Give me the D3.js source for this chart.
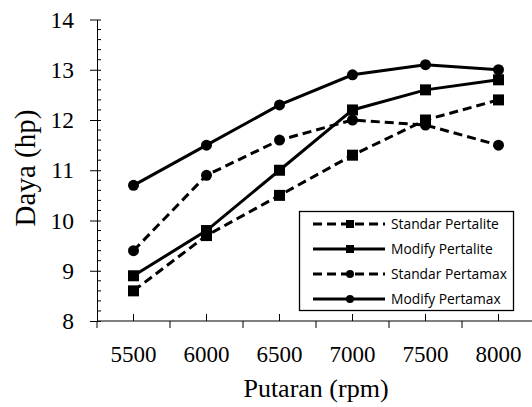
<!DOCTYPE html>
<html>
<head>
<meta charset="utf-8">
<script src="https://d3js.org/d3.v7.min.js"></script>
<style>
  body { margin: 0; background: #fff; }
</style>
</head>
<body>
<div id="chart"></div>
<script>
let rpm = ["5500", "6000", "6500", "7000", "7500", "8000"];
let yTicks = [8, 9, 10, 11, 12, 13, 14];
let seriesNames = ["Standar Pertalite", "Modify Pertalite", "Standar Pertamax", "Modify Pertamax"];
let standarPertalite = [8.6, 9.7, 10.5, 11.3, 12.0, 12.4];
let modifyPertalite = [8.9, 9.8, 11.0, 12.2, 12.6, 12.8];
let standarPertamax = [9.4, 10.9, 11.6, 12.0, 11.9, 11.5];
let modifyPertamax = [10.7, 11.5, 12.3, 12.9, 13.1, 13.0];

let series = [
  {name: seriesNames[0], values: standarPertalite, dashed: true, marker: "square"},
  {name: seriesNames[1], values: modifyPertalite, dashed: false, marker: "square"},
  {name: seriesNames[2], values: standarPertamax, dashed: true, marker: "circle"},
  {name: seriesNames[3], values: modifyPertamax, dashed: false, marker: "circle"}
];

let w = 532, h = 407;
let padL = 97, padR = 535, padT = 19.5, padB = 321;
let serif = "'Liberation Serif', 'Times New Roman', serif";

let svg = d3.select("#chart")
            .append("svg")
            .attr("width", w)
            .attr("height", h);

let xScale = d3.scaleBand()
               .domain(rpm)
               .range([padL, padR]);
let xc = (d) => xScale(d) + xScale.bandwidth() / 2;

let yScale = d3.scaleLinear()
               .domain([8, 14])
               .range([padB, padT]);

// y axis: major ticks cross, minor ticks inside
let yAxis = d3.axisLeft(yScale)
              .tickValues(yTicks)
              .tickFormat(d3.format("d"))
              .tickSize(7)
              .tickPadding(16)
              .tickSizeOuter(0);
let yG = svg.append("g")
            .attr("transform", "translate(" + padL + ",0)")
            .call(yAxis);
yG.attr("font-family", null).attr("font-size", null);
yG.selectAll(".tick line").attr("x2", -7).attr("x1", 4);
yG.selectAll(".tick text")
  .style("font-family", serif)
  .style("font-size", "23.5px")
  .style("fill", "#000");

let minor = d3.range(8, 14.001, 0.2).filter(v => Math.abs(v - Math.round(v)) > 0.01);
yG.selectAll(".minor")
  .data(minor)
  .enter()
  .append("line")
  .attr("class", "minor")
  .attr("x1", 0)
  .attr("x2", 4)
  .attr("y1", (d) => yScale(d))
  .attr("y2", (d) => yScale(d))
  .attr("stroke", "#000");

// x axis: outside ticks at category edges, inside ticks at points
let xG = svg.append("g")
            .attr("transform", "translate(0," + padB + ")");
xG.append("line")
  .attr("x1", padL).attr("x2", padR)
  .attr("stroke", "#000");
xG.selectAll(".edge")
  .data(rpm.concat(["end"]))
  .enter()
  .append("line")
  .attr("class", "edge")
  .attr("x1", (d, i) => padL + i * xScale.bandwidth())
  .attr("x2", (d, i) => padL + i * xScale.bandwidth())
  .attr("y1", 0).attr("y2", 7)
  .attr("stroke", "#000");
xG.selectAll(".mid")
  .data(rpm)
  .enter()
  .append("line")
  .attr("class", "mid")
  .attr("x1", xc).attr("x2", xc)
  .attr("y1", 0).attr("y2", -7)
  .attr("stroke", "#000");
xG.selectAll(".lbl")
  .data(rpm)
  .enter()
  .append("text")
  .attr("x", xc)
  .attr("y", 41)
  .attr("text-anchor", "middle")
  .style("font-family", serif)
  .style("font-size", "23px")
  .text((d) => d);

svg.append("text")
   .text("Putaran (rpm)")
   .attr("x", 316)
   .attr("y", 397)
   .attr("text-anchor", "middle")
   .style("font-family", serif)
   .style("font-size", "26px");

svg.append("text")
   .text("Daya (hp)")
   .attr("transform", "translate(35,168) rotate(-90)")
   .attr("text-anchor", "middle")
   .style("font-family", serif)
   .style("font-size", "29px");

function drawMarker(g, type, x, y, size) {
  if (type == "square") {
    g.append("rect")
     .attr("x", x - size / 2).attr("y", y - size / 2)
     .attr("width", size).attr("height", size)
     .attr("fill", "#000");
  } else {
    g.append("circle")
     .attr("cx", x).attr("cy", y)
     .attr("r", size / 2)
     .attr("fill", "#000");
  }
}

let line = d3.line()
             .x((d, i) => xc(rpm[i]))
             .y((d) => yScale(d));

series.forEach(s => {
  let g = svg.append("g");
  g.append("path")
   .attr("d", line(s.values))
   .attr("fill", "none")
   .attr("stroke", "#000")
   .attr("stroke-width", 3)
   .attr("stroke-dasharray", s.dashed ? "9,5" : null);
  s.values.forEach((v, i) => drawMarker(g, s.marker, xc(rpm[i]), yScale(v), 11));
});

// legend
let lg = svg.append("g");
lg.append("rect")
  .attr("x", 299.5).attr("y", 211.5)
  .attr("width", 214).attr("height", 99)
  .attr("fill", "#fff")
  .attr("stroke", "#000")
  .attr("stroke-width", 1.3);

series.forEach((s, i) => {
  let y = 224 + i * 25;
  lg.append("line")
    .attr("x1", 313).attr("x2", 385)
    .attr("y1", y).attr("y2", y)
    .attr("stroke", "#000")
    .attr("stroke-width", 3)
    .attr("stroke-dasharray", s.dashed ? "9,5" : null);
  drawMarker(lg, s.marker, 350, y, 8);
  lg.append("text")
    .text(s.name)
    .attr("x", 391)
    .attr("y", y + 5)
    .style("font-family", "'Open Sans', sans-serif")
    .style("font-size", "13.8px");
});
</script>
</body>
</html>
